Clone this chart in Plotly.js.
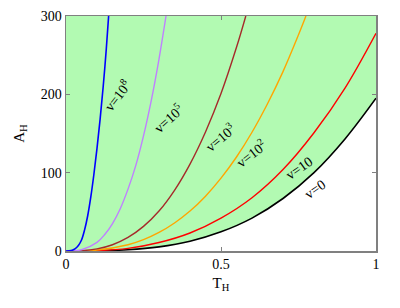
<!DOCTYPE html>
<html>
<head>
<meta charset="utf-8">
<script src="https://cdn.plot.ly/plotly-3.0.1.min.js"></script>
<style>html,body{margin:0;padding:0;background:#fff;}#chart{width:400px;height:308px;}</style>
</head>
<body>
<div id="chart"></div>
<script>
// Upper boundary of the shaded (allowed) region
const topT = [0, 1];
const topA = [300, 300];

// v = 0 (black)
const t_v0 = [0, 0.1, 0.2, 0.3, 0.4, 0.5, 0.6, 0.7, 0.8, 0.9, 1.0];
const a_v0 = [0, 0.2, 1.6, 5.3, 12.5, 24.5, 42, 67, 100, 143, 195];

// v = 10 (red)
const t_v10 = [0, 0.1, 0.2, 0.3, 0.4, 0.5, 0.6, 0.7, 0.8, 0.9, 1.0];
const a_v10 = [0, 0.5, 3.3, 10.8, 23, 42, 68, 104, 151, 208, 278];

// v = 10^2 (orange)
const t_v1e2 = [0, 0.1, 0.2, 0.25, 0.3, 0.35, 0.4, 0.45, 0.5, 0.55, 0.6, 0.65, 0.7, 0.75, 0.774];
const a_v1e2 = [0, 1.25, 8, 14.5, 23.7, 35.8, 51, 70, 93, 120, 151.6, 188, 229, 276, 300];

// v = 10^3 (brown)
const t_v1e3 = [0, 0.05, 0.1, 0.15, 0.2, 0.25, 0.3, 0.35, 0.4, 0.45, 0.5, 0.55, 0.58];
const a_v1e3 = [0, 0.4, 2.7, 8, 17.3, 31.4, 51, 77.5, 111, 152, 201, 260, 300];

// v = 10^5 (purple)
const t_v1e5 = [0, 0.05, 0.1, 0.125, 0.15, 0.175, 0.2, 0.225, 0.25, 0.275, 0.3, 0.3226];
const a_v1e5 = [0, 1.6, 11, 21, 35, 54, 79, 109, 147, 192, 245, 300];

// v = 10^8 (blue)
const t_v1e8 = [0, 0.01, 0.02, 0.03, 0.04, 0.05, 0.06, 0.07, 0.08, 0.09, 0.1, 0.11, 0.12, 0.13, 0.1375];
const a_v1e8 = [0, 0.2, 1, 3, 7, 14, 27, 45, 69, 98, 131, 168, 210, 258, 300];

// Curve labels
const labelText = ['v=10<sup>8</sup>', 'v=10<sup>5</sup>', 'v=10<sup>3</sup>', 'v=10<sup>2</sup>', 'v=10', 'v=0'];
const labelT = [0.165, 0.329, 0.497, 0.597, 0.752, 0.803];
const labelA = [199, 170, 145.5, 125, 105, 79];
const labelAngle = [-52, -42, -40, -38, -35, -35];

const xTicks = [0, 0.5, 1];
const xTickText = ['0', '0.5', '1'];
const yTicks = [0, 100, 200, 300];
const yTickText = ['0', '100', '200', '300'];

const serif = 'Liberation Serif';
const green = 'rgb(178,250,178)';

const traces = [
  {x: topT, y: topA, mode: 'lines', line: {width: 0, color: green}, hoverinfo: 'skip'},
  {x: t_v0, y: a_v0, mode: 'lines', fill: 'tonexty', fillcolor: green, line: {color: '#000000', width: 1.6, shape: 'spline'}},
  {x: t_v10, y: a_v10, mode: 'lines', line: {color: '#ff0000', width: 1.4, shape: 'spline'}},
  {x: t_v1e2, y: a_v1e2, mode: 'lines', line: {color: '#ffa500', width: 1.4, shape: 'spline'}},
  {x: t_v1e3, y: a_v1e3, mode: 'lines', line: {color: '#a52a2a', width: 1.4, shape: 'spline'}},
  {x: t_v1e5, y: a_v1e5, mode: 'lines', line: {color: '#bf80ff', width: 1.4, shape: 'spline'}},
  {x: t_v1e8, y: a_v1e8, mode: 'lines', line: {color: '#0000ff', width: 1.6, shape: 'spline'}}
];

const annotations = labelText.map((t, i) => ({
  x: labelT[i], y: labelA[i], xref: 'x', yref: 'y', text: t, showarrow: false,
  textangle: labelAngle[i], font: {family: serif, size: 14, color: '#000'}
}));

const axisCommon = {
  showgrid: false, zeroline: false, showline: true, linecolor: '#808080', linewidth: 1.5,
  mirror: 'ticks', ticks: 'inside', ticklen: 4, tickcolor: '#808080', tickwidth: 1,
  tickfont: {family: serif, size: 14, color: '#000'}
};

const layout = {
  width: 400, height: 308,
  margin: {l: 66, r: 24, t: 16, b: 57},
  paper_bgcolor: '#ffffff', plot_bgcolor: '#ffffff',
  showlegend: false,
  font: {family: serif},
  xaxis: Object.assign({}, axisCommon, {
    range: [0, 1], tickvals: xTicks, ticktext: xTickText,
    title: {text: 'T<sub>H</sub>', font: {family: serif, size: 15, color: '#000'}, standoff: 6}
  }),
  yaxis: Object.assign({}, axisCommon, {
    range: [0, 300], tickvals: yTicks, ticktext: yTickText,
    title: {text: 'A<sub>H</sub>', font: {family: serif, size: 15, color: '#000'}, standoff: 12}
  }),
  annotations: annotations
};

Plotly.newPlot('chart', traces, layout, {staticPlot: true, displayModeBar: false});
</script>
</body>
</html>
